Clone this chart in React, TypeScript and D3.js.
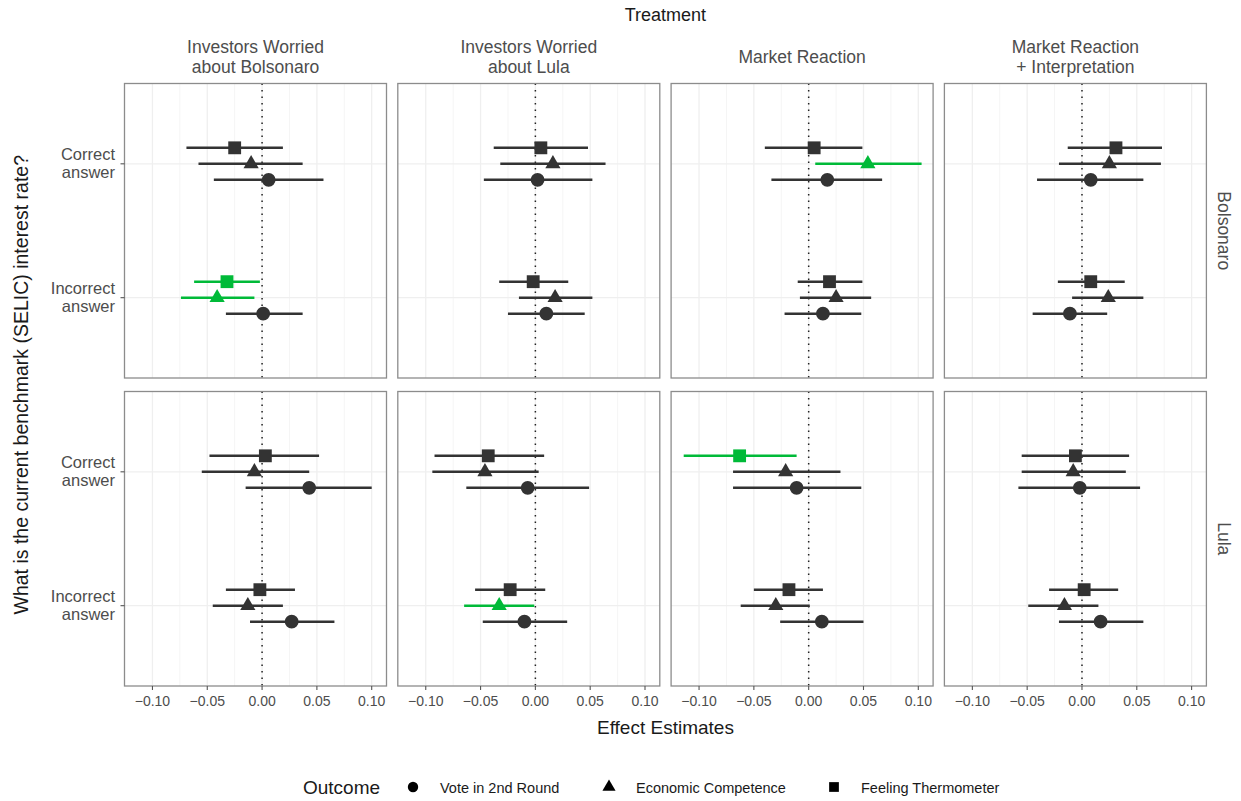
import React from "react";
import * as d3 from "d3";

const treatments = [
  ["Investors Worried", "about Bolsonaro"],
  ["Investors Worried", "about Lula"],
  ["Market Reaction"],
  ["Market Reaction", "+ Interpretation"],
];
const candidates = ["Bolsonaro", "Lula"];
const answers = ["Correct answer", "Incorrect answer"];
const outcomes = ["Vote in 2nd Round", "Economic Competence", "Feeling Thermometer"];
const xTicks = [-0.1, -0.05, 0, 0.05, 0.1];
const xMinor = [-0.075, -0.025, 0.025, 0.075];

// each row: [estimate, lower, upper]; order: Correct(vote, econ, feel), Incorrect(vote, econ, feel)
const bolsonaroWorriedBolsonaro = [
  [0.006, -0.044, 0.056], [-0.010, -0.058, 0.037], [-0.025, -0.069, 0.019],
  [0.001, -0.033, 0.037], [-0.041, -0.074, -0.007], [-0.032, -0.062, -0.002],
];
const bolsonaroWorriedLula = [
  [0.002, -0.047, 0.052], [0.016, -0.032, 0.064], [0.005, -0.038, 0.048],
  [0.010, -0.025, 0.045], [0.018, -0.015, 0.052], [-0.002, -0.033, 0.030],
];
const bolsonaroMarket = [
  [0.017, -0.034, 0.067], [0.054, 0.006, 0.103], [0.005, -0.040, 0.049],
  [0.013, -0.022, 0.048], [0.025, -0.008, 0.057], [0.019, -0.010, 0.049],
];
const bolsonaroMarketInterp = [
  [0.008, -0.041, 0.056], [0.025, -0.021, 0.072], [0.031, -0.013, 0.073],
  [-0.011, -0.045, 0.023], [0.024, -0.009, 0.056], [0.008, -0.022, 0.039],
];
const lulaWorriedBolsonaro = [
  [0.043, -0.015, 0.100], [-0.007, -0.055, 0.043], [0.003, -0.048, 0.052],
  [0.027, -0.011, 0.066], [-0.013, -0.045, 0.019], [-0.002, -0.033, 0.030],
];
const lulaWorriedLula = [
  [-0.007, -0.063, 0.049], [-0.046, -0.094, 0.003], [-0.043, -0.092, 0.008],
  [-0.010, -0.048, 0.029], [-0.033, -0.065, -0.001], [-0.023, -0.055, 0.009],
];
const lulaMarket = [
  [-0.011, -0.069, 0.048], [-0.021, -0.069, 0.029], [-0.063, -0.114, -0.011],
  [0.012, -0.026, 0.050], [-0.030, -0.062, 0.001], [-0.018, -0.050, 0.013],
];
const lulaMarketInterp = [
  [-0.002, -0.058, 0.053], [-0.008, -0.055, 0.040], [-0.006, -0.055, 0.043],
  [0.017, -0.021, 0.056], [-0.016, -0.049, 0.015], [0.002, -0.030, 0.033],
];

const panelData = [
  [bolsonaroWorriedBolsonaro, bolsonaroWorriedLula, bolsonaroMarket, bolsonaroMarketInterp],
  [lulaWorriedBolsonaro, lulaWorriedLula, lulaMarket, lulaMarketInterp],
];

const W = 1241, H = 801;
const panelLeft0 = 124.5, panelW = 262, panelStep = 273.3;
const rowTops = [83.5, 391.5], panelH = 294.5;
const GREEN = "#00BA38", DARK = "#333333";
const FONT = "'Liberation Sans', Arial, Helvetica, sans-serif";

const x = d3.scaleLinear().domain([-0.1255, 0.1135]).range([0, panelW]);
const y = d3.scalePoint().domain(answers).range([0, panelH]).padding(0.6);
const dodge = d3.scalePoint().domain([outcomes[2], outcomes[1], outcomes[0]]).range([-16, 16]);
const fmt = d3.format(".2f");

const symbolFor = (o) =>
  o === outcomes[0]
    ? d3.symbol(d3.symbolCircle, 150)()
    : o === outcomes[1]
    ? d3.symbol(d3.symbolTriangle, 100)()
    : d3.symbol(d3.symbolSquare, 165)();

const legendSym = (o) =>
  o === outcomes[0]
    ? d3.symbol(d3.symbolCircle, 85)()
    : o === outcomes[1]
    ? d3.symbol(d3.symbolTriangle, 75)()
    : d3.symbol(d3.symbolSquare, 95)();

function Panel({ r, c }) {
  const left = panelLeft0 + c * panelStep;
  const top = rowTops[r];
  const data = panelData[r][c];
  return (
    <g transform={`translate(${left},${top})`}>
      <rect width={panelW} height={panelH} fill="#fff" />
      {xMinor.map((t) => (
        <line key={"mi" + t} x1={x(t)} x2={x(t)} y1={0} y2={panelH} stroke="#f5f5f5" strokeWidth={1} />
      ))}
      {xTicks.map((t) => (
        <line key={"ma" + t} x1={x(t)} x2={x(t)} y1={0} y2={panelH} stroke="#efefef" strokeWidth={1.3} />
      ))}
      {answers.map((a) => (
        <line key={a} x1={0} x2={panelW} y1={y(a)} y2={y(a)} stroke="#efefef" strokeWidth={1.3} />
      ))}
      <line x1={x(0)} x2={x(0)} y1={0} y2={panelH} stroke="#222" strokeWidth={1.5} strokeDasharray="1.5,5" />
      {data.map((d, i) => {
        const a = answers[Math.floor(i / 3)];
        const o = outcomes[i % 3];
        const yy = y(a) + dodge(o);
        const sig = d[1] > 0 || d[2] < 0;
        const col = sig ? GREEN : DARK;
        return (
          <g key={i}>
            <line x1={x(d[1])} x2={x(d[2])} y1={yy} y2={yy} stroke={col} strokeWidth={2.6} />
            <path d={symbolFor(o)} transform={`translate(${x(d[0])},${yy})`} fill={col} />
          </g>
        );
      })}
      <rect width={panelW} height={panelH} fill="none" stroke="#8c8c8c" strokeWidth={1.3} />
      {r === 1 &&
        xTicks.map((t) => (
          <g key={"t" + t} transform={`translate(${x(t)},${panelH})`}>
            <line y1={0} y2={4} stroke="#555" strokeWidth={1.1} />
            <text y={19.5} textAnchor="middle" fontSize={14} fill="#4d4d4d" fontFamily={FONT}>
              {fmt(t)}
            </text>
          </g>
        ))}
      {c === 0 &&
        answers.map((a) => {
          const parts = a.split(" ");
          return (
            <g key={"y" + a} transform={`translate(0,${y(a)})`}>
              <line x1={-4} x2={0} stroke="#555" strokeWidth={1.1} />
              <text x={-9.5} y={-3.5} textAnchor="end" fontSize={16.5} fill="#4d4d4d" fontFamily={FONT}>
                {parts[0]}
              </text>
              <text x={-9.5} y={14.5} textAnchor="end" fontSize={16.5} fill="#4d4d4d" fontFamily={FONT}>
                {parts[1]}
              </text>
            </g>
          );
        })}
      {r === 0 && (
        <text textAnchor="middle" x={panelW / 2} fontSize={17.5} fill="#4d4d4d" fontFamily={FONT}>
          {treatments[c].map((l, k) => (
            <tspan key={k} x={panelW / 2} y={treatments[c].length === 1 ? -21 : -31 + k * 20}>
              {l}
            </tspan>
          ))}
        </text>
      )}
      {c === 3 && (
        <text
          transform={`translate(${panelW + 16},${panelH / 2}) rotate(90)`}
          textAnchor="middle"
          dominantBaseline="middle"
          fontSize={17.5}
          fill="#4d4d4d"
          fontFamily={FONT}
        >
          {candidates[r]}
        </text>
      )}
    </g>
  );
}

export default function App() {
  const cx = (panelLeft0 + panelLeft0 + 3 * panelStep + panelW) / 2;
  const cy = (rowTops[0] + rowTops[1] + panelH) / 2;
  const legendX = [413, 609, 834];
  return (
    <svg width={W} height={H} style={{ position: "absolute", left: 0, top: 0 }} fontFamily={FONT}>
      <rect width={W} height={H} fill="#fff" />
      <text x={cx} y={21} textAnchor="middle" fontSize={18} fill="#1a1a1a">
        Treatment
      </text>
      {[0, 1].map((r) => [0, 1, 2, 3].map((c) => <Panel key={r + "-" + c} r={r} c={c} />))}
      <text x={cx} y={734} textAnchor="middle" fontSize={19} fill="#1a1a1a">
        Effect Estimates
      </text>
      <text transform={`translate(28,${cy}) rotate(-90)`} textAnchor="middle" fontSize={19.5} fill="#1a1a1a">
        What is the current benchmark (SELIC) interest rate?
      </text>
      <text x={303} y={794} fontSize={19} fill="#1a1a1a">
        Outcome
      </text>
      {outcomes.map((o, i) => (
        <g key={o}>
          <path d={legendSym(o)} transform={`translate(${legendX[i]},${787})`} fill="#000" />
          <text x={legendX[i] + 27} y={792.5} fontSize={14.5} fill="#1a1a1a">
            {o}
          </text>
        </g>
      ))}
    </svg>
  );
}
